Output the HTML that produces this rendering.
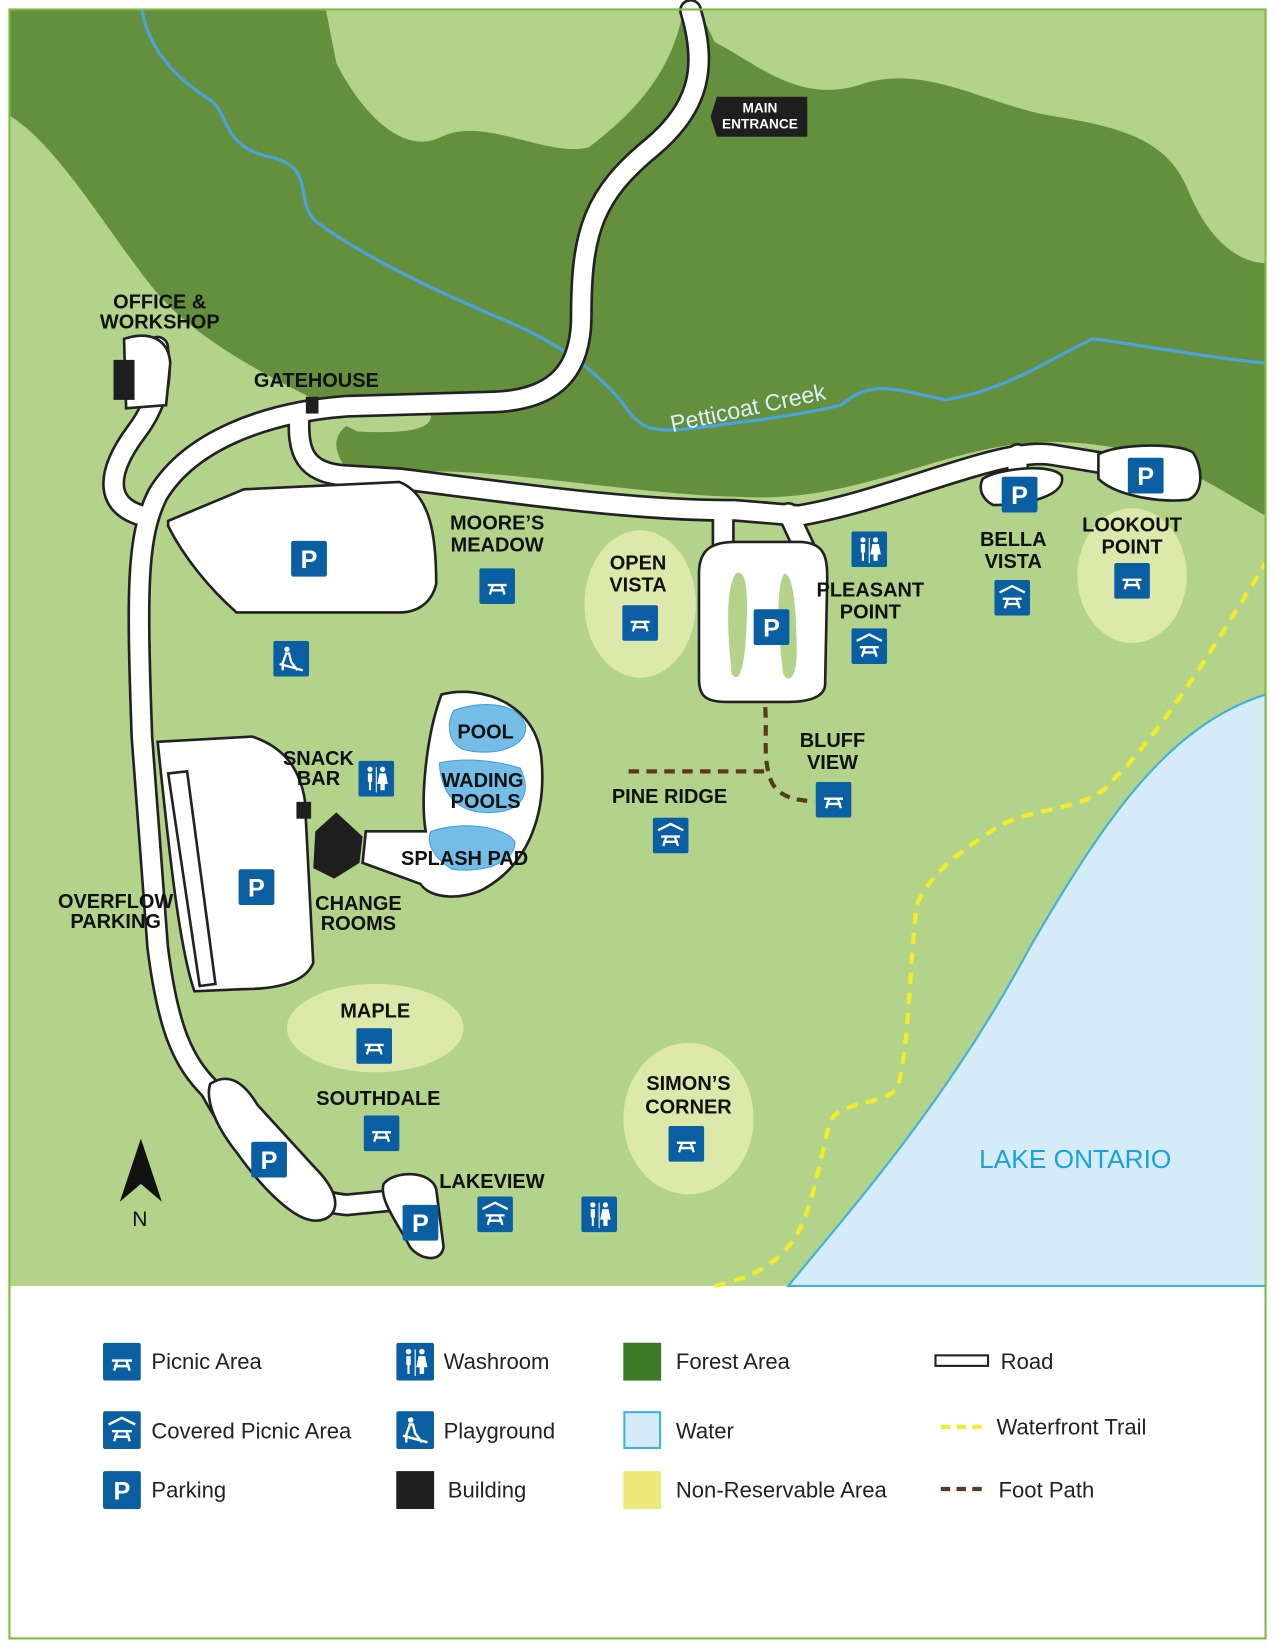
<!DOCTYPE html>
<html><head><meta charset="utf-8">
<style>
html,body{margin:0;padding:0;background:#fff}
svg{display:block}
.l{font-family:"Liberation Sans",sans-serif;font-weight:bold;font-size:19px;fill:#111;text-anchor:middle}
.g{font-family:"Liberation Sans",sans-serif;font-size:21px;fill:#222}
.p{font-family:"Liberation Sans",sans-serif;font-weight:bold;font-size:24px;fill:#fff;text-anchor:middle}
</style></head>
<body>
<svg width="1275" height="1650" viewBox="0 0 1213 1568" preserveAspectRatio="none" xmlns="http://www.w3.org/2000/svg">
<defs>
<symbol id="pic" viewBox="0 0 34 34"><rect width="34" height="34" rx="2" fill="#0a5fa3"/><path d="M8 16h18M10 21h14M13 16l-3 9M21 16l3 9" stroke="#fff" stroke-width="2.2" fill="none"/></symbol>
<symbol id="cov" viewBox="0 0 34 34"><rect width="34" height="34" rx="2" fill="#0a5fa3"/><path d="M5 12l12-6 12 6" stroke="#fff" stroke-width="2.2" fill="none"/><path d="M8 18h18M10 23h14M13 18l-3 9M21 18l3 9" stroke="#fff" stroke-width="2.2" fill="none"/></symbol>
<symbol id="wash" viewBox="0 0 34 34"><rect width="34" height="34" rx="2" fill="#0a5fa3"/><circle cx="11" cy="8" r="2.5" fill="#fff"/><circle cx="23" cy="8" r="2.5" fill="#fff"/><path d="M9 12h4v8h-1v8h-2v-8H9zM20 12h6l2 10h-3v6h-4v-6h-3z" fill="#fff"/><path d="M17 6v24" stroke="#fff" stroke-width="1"/></symbol>
<symbol id="play" viewBox="0 0 34 34"><rect width="34" height="34" rx="2" fill="#0a5fa3"/><circle cx="13" cy="8" r="2.5" fill="#fff"/><path d="M11 12h4l2 8 6 8M12 13l-3 8v7M6 22l22 6" stroke="#fff" stroke-width="2.2" fill="none"/></symbol>
</defs>
<rect width="1213" height="1568" fill="#fff"/>
<!-- map base -->
<rect x="9" y="9" width="1195" height="1213" fill="#b3d38a"/>
<!-- forest -->
<path d="M9 9H1204V490C1150 460 1100 420 1000 420C900 420 820 480 700 472C600 470 450 440 380 450L330 446C310 420 320 400 360 395L300 380C260 360 200 330 160 290C120 250 60 140 9 110Z" fill="#64903d"/>
<!-- light areas in forest -->
<path d="M310 9H650C640 70 600 110 560 140C520 150 460 110 420 130C380 150 340 100 320 60Z" fill="#b3d38a"/>
<path d="M665 9H1204V250C1180 250 1150 230 1130 180C1110 130 1060 120 1000 110C940 100 880 60 820 80C760 100 720 60 680 40Z" fill="#b3d38a"/>
<path d="M9 110C60 140 120 250 160 290C200 330 260 360 300 380L9 480Z" fill="#b3d38a"/>
<path d="M300 390C350 380 400 380 410 395C410 410 380 412 340 410Z" fill="#b3d38a"/>
<!-- lake -->
<path d="M750 1222C800 1160 900 1050 980 900C1050 780 1110 690 1204 660V1222Z" fill="#d5ecf8" stroke="#3fb0e0" stroke-width="2"/>
<!-- creek -->
<path d="M135 9C140 40 160 70 200 95C220 110 210 140 260 150C300 160 280 190 300 210C340 240 400 270 470 300C520 320 560 345 590 380C605 400 610 412 650 408C700 402 760 395 800 385C830 360 850 370 900 380C960 370 1000 340 1040 322C1100 330 1150 340 1204 345" stroke="#4aa3dc" stroke-width="3" fill="none"/>
<!-- light ellipses -->
<g fill="#dde9ab">
<ellipse cx="609" cy="574" rx="53" ry="70"/>
<ellipse cx="1077" cy="547" rx="52" ry="64"/>
<ellipse cx="357" cy="977" rx="84" ry="42"/>
<ellipse cx="655" cy="1063" rx="62" ry="72"/>
</g>
<!-- trails -->
<path d="M680 1222C710 1215 740 1205 760 1170C775 1140 780 1100 790 1065C800 1045 850 1050 855 1030C865 990 865 920 872 860C890 820 930 800 950 785C990 765 1040 770 1060 740C1100 700 1140 640 1204 535" stroke="#f2ec2b" stroke-width="4" stroke-dasharray="11 8" fill="none"/>
<path d="M598 733H730M728 672C730 700 725 725 735 745C745 760 760 760 775 762" stroke="#5a3a1e" stroke-width="4" stroke-dasharray="10 7" fill="none"/>
<!-- roads -->
<g fill="none" stroke-linecap="round" stroke-linejoin="round">
<g stroke="#222" stroke-width="22">
<path d="M657 10C672 60 668 100 620 140C565 185 553 220 553 300C553 360 520 380 470 382L330 386C250 392 180 420 150 470C130 510 130 560 135 700L150 900C160 980 175 1010 200 1035"/>
<path d="M285 392C282 430 290 450 330 452L380 455C500 470 600 485 700 485L760 490C850 475 950 425 1000 432L1080 445"/>
<path d="M135 490C100 480 100 450 130 410C160 370 150 340 150 330"/>
<path d="M688 485V520M750 488L765 520M968 432V455"/>
<path d="M200 1035C230 1090 270 1140 330 1145L380 1140"/>
</g>
<g stroke="#fff" stroke-width="17">
<path d="M657 10C672 60 668 100 620 140C565 185 553 220 553 300C553 360 520 380 470 382L330 386C250 392 180 420 150 470C130 510 130 560 135 700L150 900C160 980 175 1010 200 1035"/>
<path d="M285 392C282 430 290 450 330 452L380 455C500 470 600 485 700 485L760 490C850 475 950 425 1000 432L1080 445"/>
<path d="M135 490C100 480 100 450 130 410C160 370 150 340 150 330"/>
<path d="M688 485V520M750 488L765 520M968 432V455"/>
<path d="M200 1035C230 1090 270 1140 330 1145L380 1140"/>
</g>
</g>
<g fill="#fff" stroke="#222" stroke-width="2.5">
<path d="M118 322C140 315 160 320 162 345L158 385L120 388Z"/>
<path d="M160 495L232 465L380 458C410 470 415 510 415 555C410 575 395 582 380 582H225C200 560 175 530 160 500Z"/>
<path d="M150 705L240 700C270 710 285 730 290 760L298 915C290 935 260 940 230 940L185 942C170 900 160 800 150 705Z"/>
<path d="M160 735L178 733L205 935L190 937Z"/>
<path d="M665 545C665 520 680 515 700 515H760C785 515 787 530 787 550L785 650C785 662 770 667 750 667H690C670 667 665 660 665 645Z"/>
<path d="M200 1030C215 1020 230 1025 245 1050L300 1110C330 1140 320 1160 300 1160C280 1160 250 1130 225 1095C205 1070 195 1045 200 1030Z"/>
<path d="M365 1125C375 1112 410 1112 415 1130L422 1185C420 1200 400 1198 390 1185C380 1165 360 1140 365 1125Z"/>
<path d="M935 455C950 445 1000 440 1010 452C1015 470 980 480 945 480C935 475 930 465 935 455Z"/>
<path d="M1045 432C1060 422 1120 420 1135 430C1145 445 1145 470 1130 475C1100 478 1060 470 1045 455Z"/>
<path d="M420 660C460 650 510 670 515 720C520 770 505 820 460 845C440 855 410 855 400 840L345 820L348 790L405 790C400 760 405 700 420 660Z"/>
</g>
<path d="M700 545C710 540 712 560 710 600C708 640 702 650 696 640C692 600 690 560 700 545ZM746 545C755 545 758 580 758 620C758 645 750 650 745 640C740 600 738 560 746 545Z" fill="#b3d38a"/>
<!-- pools -->
<g fill="#74bde6" stroke="#3fa1dc" stroke-width="1">
<path d="M432 675C460 665 495 668 500 690C502 710 470 720 440 712C425 705 425 685 432 675Z"/>
<path d="M418 725C440 720 470 722 495 730C505 750 500 770 470 772C440 774 420 760 418 725Z"/>
<path d="M410 790C440 780 480 785 490 800C490 820 460 830 430 826C412 815 405 800 410 790Z"/>
</g>
<!-- buildings -->
<g fill="#1e1e1e">
<rect x="108" y="342" width="20" height="38"/>
<rect x="291" y="377" width="12" height="16"/>
<rect x="282" y="762" width="14" height="16"/>
<path d="M300 790L320 772L345 795L342 820L318 835L298 825Z"/>
</g>
<!-- main entrance label -->
<path d="M682 92H768V130H682L676 111Z" fill="#1e1e1e"/>
<text x="723" y="107" font-family="Liberation Sans,sans-serif" font-weight="bold" font-size="13" fill="#fff" text-anchor="middle">MAIN</text>
<text x="723" y="122" font-family="Liberation Sans,sans-serif" font-weight="bold" font-size="13" fill="#fff" text-anchor="middle">ENTRANCE</text>
<!-- icons -->
<use href="#pic" x="456" y="540" width="34" height="34"/>
<use href="#pic" x="592" y="575" width="34" height="34"/>
<use href="#pic" x="1060" y="535" width="34" height="34"/>
<use href="#pic" x="776" y="743" width="34" height="34"/>
<use href="#pic" x="339" y="977" width="34" height="34"/>
<use href="#pic" x="346" y="1060" width="34" height="34"/>
<use href="#pic" x="636" y="1070" width="34" height="34"/>
<use href="#cov" x="810" y="597" width="34" height="34"/>
<use href="#cov" x="946" y="551" width="34" height="34"/>
<use href="#cov" x="621" y="777" width="34" height="34"/>
<use href="#cov" x="454" y="1137" width="34" height="34"/>
<use href="#wash" x="810" y="505" width="34" height="34"/>
<use href="#wash" x="341" y="723" width="34" height="34"/>
<use href="#wash" x="553" y="1137" width="34" height="34"/>
<use href="#play" x="260" y="609" width="34" height="34"/>
<g fill="#0a5fa3">
<rect x="277" y="514" width="34" height="34" rx="2"/><rect x="717" y="579" width="34" height="34" rx="2"/>
<rect x="953" y="453" width="34" height="34" rx="2"/><rect x="1073" y="435" width="34" height="34" rx="2"/>
<rect x="227" y="826" width="34" height="34" rx="2"/><rect x="239" y="1085" width="34" height="34" rx="2"/>
<rect x="383" y="1145" width="34" height="34" rx="2"/>
</g>
<text class="p" x="294" y="540">P</text><text class="p" x="734" y="605">P</text>
<text class="p" x="970" y="479">P</text><text class="p" x="1090" y="461">P</text>
<text class="p" x="244" y="852">P</text><text class="p" x="256" y="1111">P</text>
<text class="p" x="400" y="1171">P</text>
<!-- labels -->
<text class="l" x="152" y="293">OFFICE &amp;</text><text class="l" x="152" y="312">WORKSHOP</text>
<text class="l" x="301" y="368">GATEHOUSE</text>
<text class="l" x="473" y="503">MOORE’S</text><text class="l" x="473" y="524">MEADOW</text>
<text class="l" x="607" y="541">OPEN</text><text class="l" x="607" y="562">VISTA</text>
<text class="l" x="828" y="567">PLEASANT</text><text class="l" x="828" y="588">POINT</text>
<text class="l" x="964" y="519">BELLA</text><text class="l" x="964" y="540">VISTA</text>
<text class="l" x="1077" y="505">LOOKOUT</text><text class="l" x="1077" y="526">POINT</text>
<text class="l" x="303" y="727">SNACK</text><text class="l" x="303" y="746">BAR</text>
<text class="l" x="462" y="702">POOL</text>
<text class="l" x="459" y="748">WADING</text><text class="l" x="462" y="768">POOLS</text>
<text class="l" x="442" y="822">SPLASH PAD</text>
<text class="l" x="792" y="710">BLUFF</text><text class="l" x="792" y="731">VIEW</text>
<text class="l" x="637" y="763">PINE RIDGE</text>
<text class="l" x="341" y="865">CHANGE</text><text class="l" x="341" y="884">ROOMS</text>
<text class="l" x="110" y="863">OVERFLOW</text><text class="l" x="110" y="882">PARKING</text>
<text class="l" x="357" y="967">MAPLE</text>
<text class="l" x="360" y="1050">SOUTHDALE</text>
<text class="l" x="655" y="1036">SIMON’S</text><text class="l" x="655" y="1058">CORNER</text>
<text class="l" x="468" y="1129">LAKEVIEW</text>
<text x="1023" y="1110" font-family="Liberation Sans,sans-serif" font-size="25" fill="#1aa0e0" text-anchor="middle">LAKE ONTARIO</text>
<text x="712" y="395" font-family="Liberation Sans,sans-serif" font-size="22" fill="#dff0fa" text-anchor="middle" transform="rotate(-12 712 390)">Petticoat Creek</text>
<!-- north -->
<path d="M134 1082L114 1142L134 1125L154 1142Z" fill="#111"/>
<text x="133" y="1165" font-family="Liberation Sans,sans-serif" font-size="20" fill="#111" text-anchor="middle">N</text>
<!-- frame -->
<rect x="9" y="9" width="1195" height="1548" fill="none" stroke="#7cbd3c" stroke-width="2"/>
<!-- legend -->
<use href="#pic" x="98" y="1276" width="36" height="36"/>
<use href="#cov" x="98" y="1341" width="36" height="36"/>
<rect x="98" y="1398" width="36" height="36" rx="2" fill="#0a5fa3"/><text class="p" x="116" y="1425">P</text>
<use href="#wash" x="377" y="1276" width="36" height="36"/>
<use href="#play" x="377" y="1341" width="36" height="36"/>
<rect x="377" y="1398" width="36" height="36" fill="#1e1e1e"/>
<rect x="593" y="1276" width="36" height="36" fill="#3c7a26"/>
<rect x="594" y="1342" width="34" height="34" fill="#d5ecf8" stroke="#3fb0e0" stroke-width="2"/>
<rect x="593" y="1398" width="36" height="36" fill="#ede978"/>
<rect x="890" y="1288" width="50" height="10" fill="#fff" stroke="#222" stroke-width="2"/>
<path d="M895 1356H940" stroke="#f2ec2b" stroke-width="4" stroke-dasharray="9 6"/>
<path d="M895 1415H940" stroke="#5a3a1e" stroke-width="4" stroke-dasharray="9 6"/>
<text class="g" x="144" y="1301">Picnic Area</text>
<text class="g" x="144" y="1367">Covered Picnic Area</text>
<text class="g" x="144" y="1423">Parking</text>
<text class="g" x="422" y="1301">Washroom</text>
<text class="g" x="422" y="1367">Playground</text>
<text class="g" x="426" y="1423">Building</text>
<text class="g" x="643" y="1301">Forest Area</text>
<text class="g" x="643" y="1367">Water</text>
<text class="g" x="643" y="1423">Non-Reservable Area</text>
<text class="g" x="952" y="1301">Road</text>
<text class="g" x="948" y="1363">Waterfront Trail</text>
<text class="g" x="950" y="1423">Foot Path</text>
</svg>
</body></html>
